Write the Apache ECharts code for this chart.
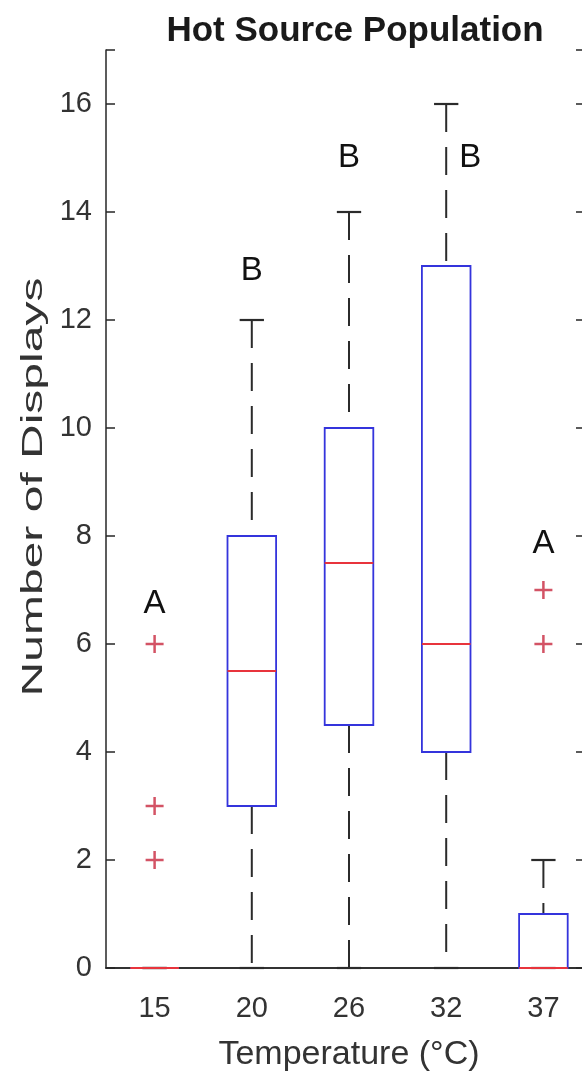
<!DOCTYPE html>
<html>
<head>
<meta charset="utf-8">
<script src="https://cdn.jsdelivr.net/npm/echarts@6/dist/echarts.min.js"></script>
<style>
html,body{margin:0;padding:0;background:#fff;overflow:hidden;width:582px;height:1077px;}
#chart{width:610px;height:1077px;}
</style>
</head>
<body>
<div id="chart"></div>
<script>
// ---- data ----
const categories = ['15', '20', '26', '32', '37'];
const whiskerLow = [0, 0, 0, 0, 0];
const q1 = [0, 3, 4.5, 4, 0];
const median = [0, 5.5, 7.5, 6, 0];
const q3 = [0, 8, 10, 13, 1];
const whiskerHigh = [0, 12, 14, 16, 2];
const outlierGroup = [0, 0, 0, 4, 4];
const outlierValue = [6, 3, 2, 7, 6];
const letters = ['A', 'B', 'B', 'B', 'A'];
const letterValue = [6.75, 12.9, 15.0, 15.0, 7.85];
const yTicks = [0, 2, 4, 6, 8, 10, 12, 14, 16];

const AXIS = '#262626';
const chart = echarts.init(document.getElementById('chart'), null, {renderer: 'canvas'});

const boxData = categories.map((c, i) => [i, whiskerLow[i], q1[i], median[i], q3[i], whiskerHigh[i]]);
const outlierData = outlierGroup.map((g, i) => [g, outlierValue[i]]);
const letterData = letters.map((t, i) => [i, letterValue[i]]);
const letterShift = [0, 0, 0, 24, 0];

function renderBox(params, api) {
  const i = api.value(0);
  const band = api.size([1, 0])[0];
  const hb = band * 0.25, hc = band * 0.125;
  const pL = api.coord([i, api.value(1)]);
  const p1 = api.coord([i, api.value(2)]);
  const pM = api.coord([i, api.value(3)]);
  const p3 = api.coord([i, api.value(4)]);
  const pH = api.coord([i, api.value(5)]);
  const x = pM[0];
  const dash = {stroke: '#2b2b2b', lineWidth: 2, lineDash: [28, 15]};
  const solid = {stroke: '#2b2b2b', lineWidth: 2.2};
  return {
    type: 'group',
    children: [
      {type: 'line', shape: {x1: x, y1: pH[1], x2: x, y2: p3[1]}, style: dash},
      {type: 'line', shape: {x1: x, y1: p1[1], x2: x, y2: pL[1]}, style: dash},
      {type: 'line', shape: {x1: x - hc, y1: pH[1], x2: x + hc, y2: pH[1]}, style: solid},
      {type: 'line', shape: {x1: x - hc, y1: pL[1], x2: x + hc, y2: pL[1]}, style: solid},
      {type: 'rect', shape: {x: x - hb, y: p3[1], width: 2 * hb, height: p1[1] - p3[1]},
        style: {fill: 'none', stroke: '#3434dc', lineWidth: 1.8}},
      {type: 'line', shape: {x1: x - hb, y1: pM[1], x2: x + hb, y2: pM[1]},
        style: {stroke: '#e8343c', lineWidth: 1.8}}
    ]
  };
}

function renderLetter(params, api) {
  const p = api.coord([api.value(0), api.value(1)]);
  const idx = params.dataIndex;
  return {
    type: 'text',
    x: p[0] + letterShift[idx],
    y: p[1],
    style: {
      text: letters[idx],
      font: '33px "Liberation Sans Narrow", "Liberation Sans", sans-serif',
      fill: '#111',
      align: 'center',
      verticalAlign: 'middle'
    }
  };
}

const gridLeft = 106, gridTop = 50, gridWidth = 486, gridHeight = 925;

const option = {
  animation: false,
  backgroundColor: '#fff',
  title: {
    text: 'Hot Source Population',
    left: 350, top: 9, textAlign: 'center',
    textStyle: {fontSize: 35, fontWeight: 'bold', color: '#1a1a1a', fontFamily: 'Liberation Sans'}
  },
  grid: {left: gridLeft, top: gridTop, width: gridWidth, height: gridHeight},
  xAxis: [{
    type: 'category', data: categories, position: 'bottom', boundaryGap: true,
    axisLine: {lineStyle: {color: AXIS, width: 1.5}},
    axisTick: {alignWithLabel: true, inside: true, length: 9, lineStyle: {color: AXIS, width: 1.5}},
    axisLabel: {fontSize: 29, color: '#333', margin: 26, fontFamily: 'Liberation Sans'},
    name: 'Temperature (°C)', nameLocation: 'middle', nameGap: 70,
    nameTextStyle: {fontSize: 34, color: '#333', fontFamily: 'Liberation Sans'},
    splitLine: {show: false}
  }, {
    type: 'category', data: categories, position: 'top', boundaryGap: true,
    axisLine: {lineStyle: {color: AXIS, width: 1.5}},
    axisTick: {alignWithLabel: true, inside: true, length: 9, lineStyle: {color: AXIS, width: 1.5}},
    axisLabel: {show: false}, splitLine: {show: false}
  }],
  yAxis: [{
    type: 'value', min: 0, max: 17, interval: 2, position: 'left',
    axisLine: {show: true, lineStyle: {color: AXIS, width: 1.5}},
    axisTick: {show: true, inside: true, length: 9, lineStyle: {color: AXIS, width: 1.5}},
    axisLabel: {fontSize: 29, color: '#333', margin: 14, fontFamily: 'Liberation Sans',
      formatter: v => (yTicks.indexOf(v) >= 0 ? String(v) : '')},
    splitLine: {show: false}
  }, {
    type: 'value', min: 0, max: 17, interval: 2, position: 'right',
    axisLine: {show: true, lineStyle: {color: AXIS, width: 1.5}},
    axisTick: {show: true, inside: true, length: 16, lineStyle: {color: AXIS, width: 1.5}},
    axisLabel: {show: false}, splitLine: {show: false}
  }],
  graphic: [{
    type: 'text', x: 34, y: 487, rotation: Math.PI / 2, scaleX: 1.6,
    style: {text: 'Number of Displays', font: '30px "Liberation Sans"', fill: '#333',
      align: 'center', verticalAlign: 'middle'}
  }],
  series: [{
    type: 'custom', renderItem: renderBox, data: boxData, clip: false, z: 5,
    encode: {x: 0, y: [1, 2, 3, 4, 5]}
  }, {
    type: 'scatter', data: outlierData, z: 6,
    symbol: 'path://M0,5L10,5M5,0L5,10', symbolSize: 18,
    itemStyle: {color: 'none', borderColor: '#c8283e', borderWidth: 2.5}
  }, {
    type: 'custom', renderItem: renderLetter, data: letterData, clip: false, z: 7,
    encode: {x: 0, y: 1}
  }]
};
chart.setOption(option);
</script>
</body>
</html>
